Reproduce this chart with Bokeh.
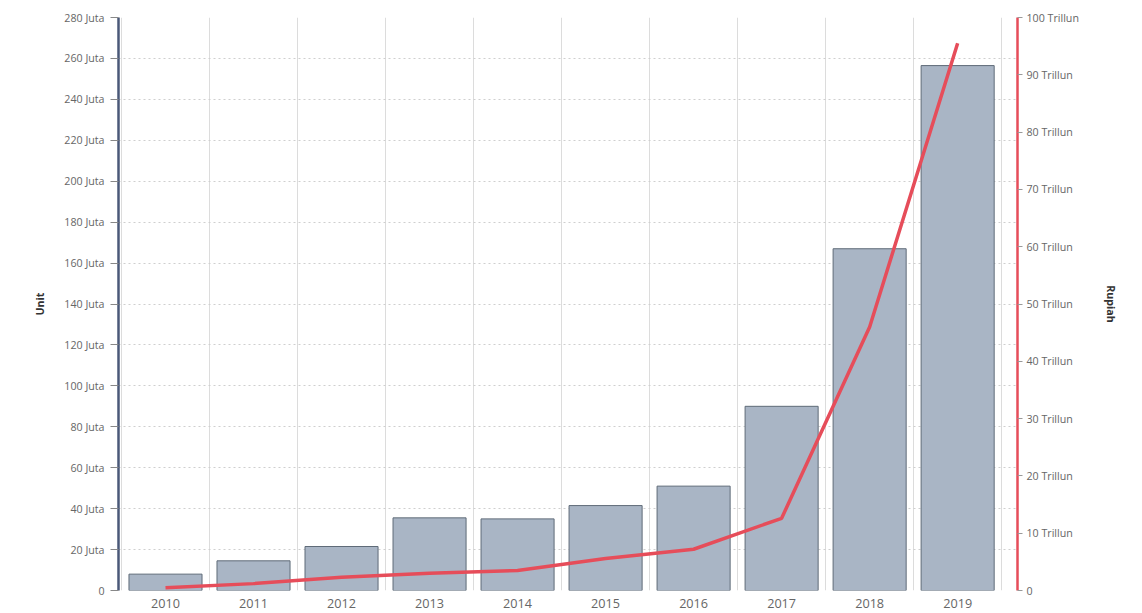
from bokeh.plotting import figure
from bokeh.models import Range1d, LinearAxis, FixedTicker, CustomJSTickFormatter
from bokeh.embed import file_html
from bokeh.resources import INLINE

years = ["2010", "2011", "2012", "2013", "2014", "2015", "2016", "2017", "2018", "2019"]
units_juta = [8, 14.5, 21.5, 35.5, 35, 41.5, 51, 90, 167, 256.5]
rupiah_trillun = [0.5, 1.2, 2.3, 3.0, 3.5, 5.6, 7.2, 12.6, 46, 95.5]
left_ticks = list(range(0, 281, 20))
right_ticks = list(range(0, 101, 10))

xs = list(range(len(years)))

p = figure(width=1142, height=613, output_backend="svg", toolbar_location=None,
           x_range=Range1d(-0.534, 9.68), y_range=Range1d(0, 280),
           min_border_left=118, min_border_right=125, min_border_top=17, min_border_bottom=23)
p.extra_y_ranges = {"rp": Range1d(0, 100)}
p.background_fill_color = "white"
p.border_fill_color = "white"
p.outline_line_color = None

# vertical category separators
p.xgrid.ticker = FixedTicker(ticks=[i + 0.5 for i in range(-1, 10)])
p.xgrid.grid_line_color = "#dcdcdc"
p.xgrid.grid_line_width = 1
p.ygrid.ticker = FixedTicker(ticks=left_ticks)
p.ygrid.grid_line_color = "#cfcfcf"
p.ygrid.grid_line_dash = "2 3"

p.vbar(x=xs, top=units_juta, width=0.83, fill_color="#a9b5c5", line_color="#5f6b78", line_width=1)
p.line(x=xs, y=rupiah_trillun, y_range_name="rp", line_color="#e64d5a", line_width=3.5)

tick_font = "Open Sans"
# x axis
p.xaxis.ticker = FixedTicker(ticks=xs)
p.xaxis.major_label_overrides = {i: y for i, y in enumerate(years)}
p.xaxis.axis_line_color = None
p.xaxis.major_tick_line_color = None
p.xaxis.minor_tick_line_color = None
p.xaxis.major_label_text_font = tick_font
p.xaxis.major_label_text_font_size = "9.5pt"
p.xaxis.major_label_text_color = "#666666"
p.xaxis.major_label_standoff = 2

# left axis
p.yaxis.ticker = FixedTicker(ticks=left_ticks)
p.yaxis.formatter = CustomJSTickFormatter(code="return tick == 0 ? '0' : tick + ' Juta';")
p.yaxis.axis_label = "Unit"
p.yaxis.axis_label_text_font = tick_font
p.yaxis.axis_label_text_font_style = "bold"
p.yaxis.axis_label_text_font_size = "8pt"
p.yaxis.axis_label_text_color = "#333333"
p.yaxis.axis_line_color = "#4a5878"
p.yaxis.axis_line_width = 2.5
p.yaxis.major_tick_line_color = "#888888"
p.yaxis.major_tick_out = 8
p.yaxis.major_tick_in = 0
p.yaxis.minor_tick_line_color = None
p.yaxis.major_label_text_font = tick_font
p.yaxis.major_label_text_font_size = "8pt"
p.yaxis.major_label_text_color = "#666666"
p.yaxis.major_label_standoff = 6
p.yaxis.axis_label_standoff = 14

ra = LinearAxis(y_range_name="rp", ticker=FixedTicker(ticks=right_ticks),
                formatter=CustomJSTickFormatter(code="return tick == 0 ? '0' : tick + ' Trillun';"))
ra.axis_label = "Rupiah"
ra.axis_label_text_font = tick_font
ra.axis_label_text_font_style = "bold"
ra.axis_label_text_font_size = "8pt"
ra.axis_label_text_color = "#333333"
ra.axis_line_color = "#e64d5a"
ra.axis_line_width = 2.5
ra.major_tick_line_color = "#999999"
ra.major_tick_out = 5
ra.major_tick_in = 0
ra.minor_tick_line_color = None
ra.major_label_text_font = tick_font
ra.major_label_text_font_size = "8pt"
ra.major_label_text_color = "#666666"
ra.major_label_standoff = 4
ra.axis_label_standoff = 22
p.add_layout(ra, "right")

open("out.html", "w").write(file_html(p, INLINE))
